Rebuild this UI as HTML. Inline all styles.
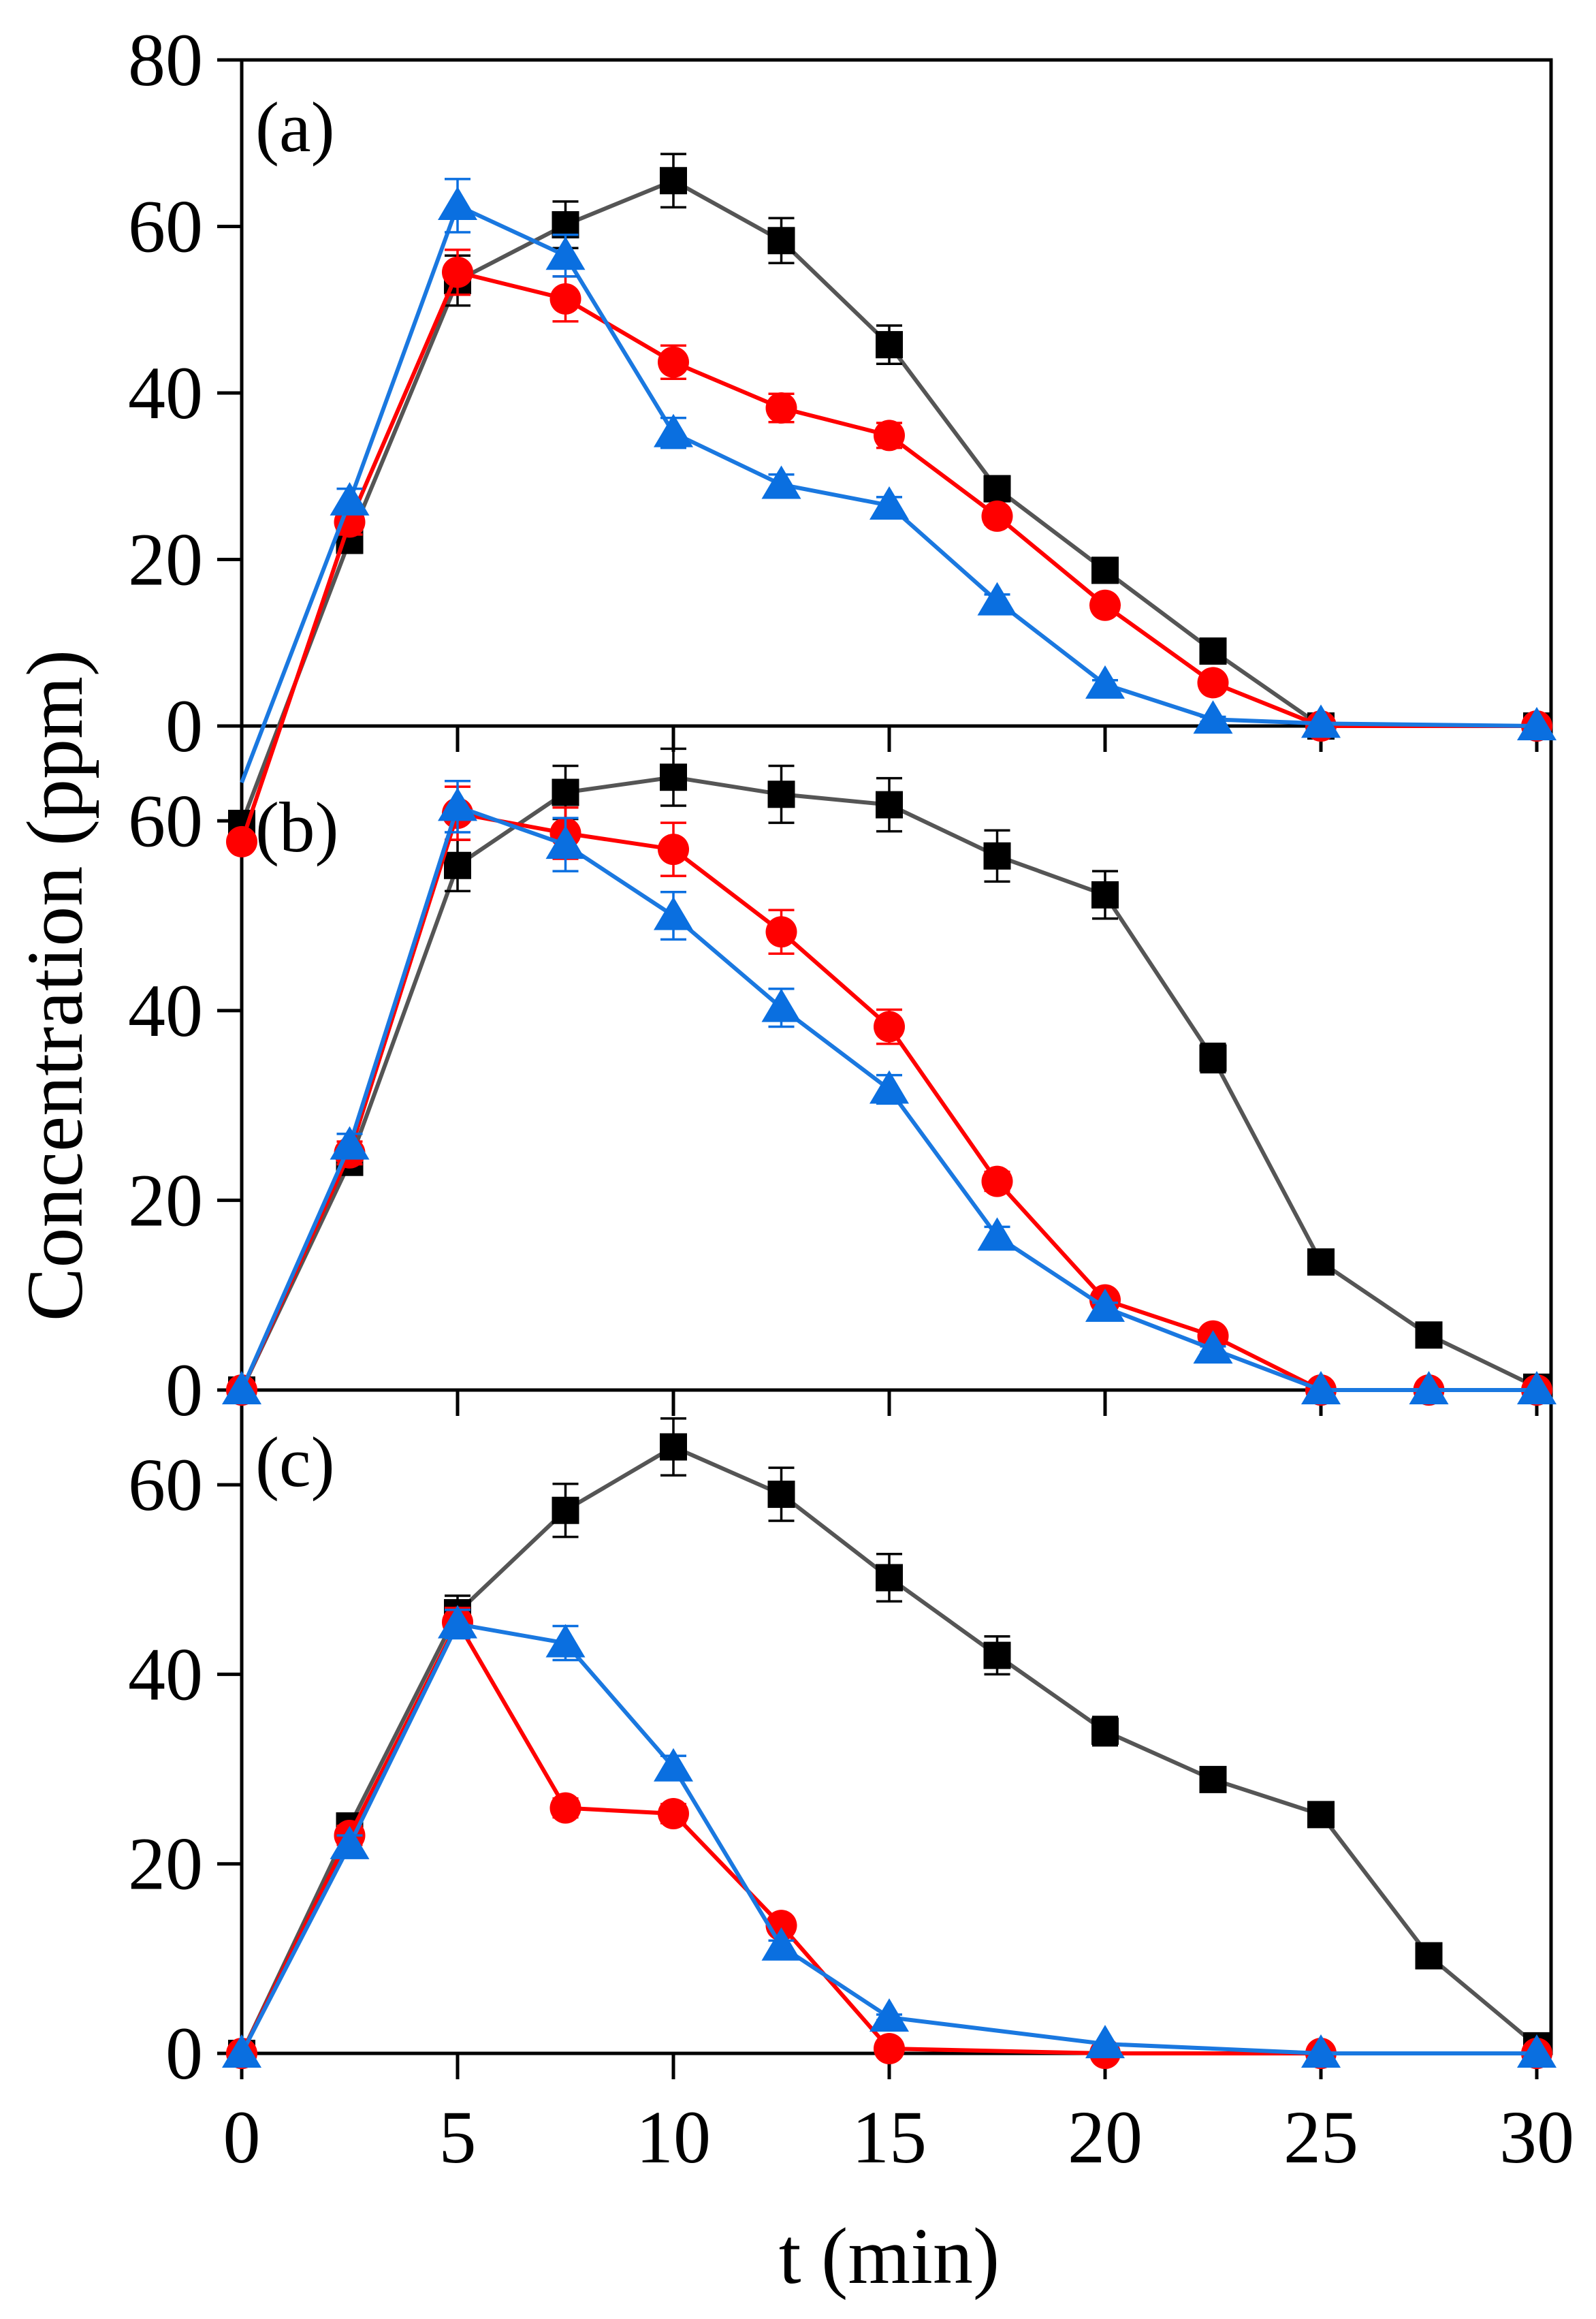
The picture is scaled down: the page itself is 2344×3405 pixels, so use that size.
<!DOCTYPE html>
<html><head><meta charset="utf-8"><style>
html,body{margin:0;padding:0;background:#fff;}
svg{display:block;font-family:"Liberation Serif",serif;}
</style></head><body>
<svg id="chart" width="2344" height="3405" viewBox="0 0 2344 3405" xmlns="http://www.w3.org/2000/svg">
<g id="axes"></g>
<g id="series"></g>
<text x="0" y="0" font-size="118" text-anchor="middle" transform="translate(120,1447) rotate(-90)">Concentration (ppm)</text>
<text x="1306" y="3352" font-size="118" text-anchor="middle">t (min)</text>
</svg>
<script>
const times=[0,2.5,5,7.5,10,12.5,15,17.5,20,22.5,25,27.5,30];
const xTicks=[0,5,10,15,20,25,30];
// panel a
const aBlack=[-11.7,22.3,53.5,60.2,65.5,58.3,45.8,28.5,18.7,9,0,null,0];
const aBlackErr=[0,1.5,3,2.8,3.2,2.7,2.3,1.5,1.2,1,0,0,0];
const aRed=[-13.9,24.5,54.5,51.3,43.7,38.2,34.9,25.2,14.5,5.2,0,null,0];
const aRedErr=[0,1.5,2.7,2.7,2,1.7,1.5,1,0.8,0.5,0,0,0];
const aBlue=[-6.8,27,62.5,56.5,35.2,29,26.5,15,5,0.8,0.3,null,0];
const aBlueErr=[0,1.5,3.2,2.5,1.8,1.2,1,0.8,0.5,0.3,0,0,0];
// panel b
const bBlack=[0,24,55.3,63,64.6,62.8,61.7,56.3,52.2,35,13.5,5.8,0.3];
const bBlackErr=[0,1.2,2.7,2.8,3,3,2.8,2.7,2.5,1.5,0.8,0.5,0];
const bRed=[0,25,60.8,58.7,57,48.3,38.3,22,9.5,5.7,0,0,0];
const bRedErr=[0,1.2,2.8,2.7,2.8,2.3,1.8,1,0.6,0.4,0,0,0];
const bBlue=[0,25.8,61.5,57.5,50,40.3,31.7,16.2,8.7,4.3,0,0,0];
const bBlueErr=[0,1.2,2.7,2.8,2.5,2,1.5,1,0.5,0.3,0,0,0];
// panel c
const cBlack=[0,24,46.5,57.3,64,59,50.2,42,34,28.9,25.2,10.3,0.8];
const cBlackErr=[0,1.2,1.8,2.8,3,2.8,2.5,2,1.5,1,0.8,0.5,0];
const cRed=[0,23,45.5,25.9,25.3,13.5,0.5,null,0,null,0,null,0];
const cRedErr=[0,1,1.5,1,1,0.8,0.3,0,0,0,0,0,0];
const cBlue=[0,22,45.3,43.3,30.2,11.3,3.8,null,1,null,0,null,0];
const cBlueErr=[0,1,1.5,1.8,1.2,0.6,0.3,0,0,0,0,0,0];
const yTicksA=[0,20,40,60,80];
const yTicksBC=[0,20,40,60];

const NS="http://www.w3.org/2000/svg";
const X0=355,X1=2278,PX=(2257-355)/30;
function xs(t){return X0+t*PX;}
const panels=[
 {id:'a',top:88,bottom:1066,max:80,ticks:yTicksA,label:'(a)',ly:222,
  s:[[aBlack,aBlackErr,'black'],[aRed,aRedErr,'red'],[aBlue,aBlueErr,'blue']]},
 {id:'b',top:1066,bottom:2041,max:70,ticks:yTicksBC,label:'(b)',ly:1250,
  s:[[bBlack,bBlackErr,'black'],[bRed,bRedErr,'red'],[bBlue,bBlueErr,'blue']]},
 {id:'c',top:2041,bottom:3015,max:70,ticks:yTicksBC,label:'(c)',ly:2182,
  s:[[cBlack,cBlackErr,'black'],[cRed,cRedErr,'red'],[cBlue,cBlueErr,'blue']]}
];
const axes=document.getElementById('axes'),ser=document.getElementById('series');
function mk(tag,attrs,parent){const e=document.createElementNS(NS,tag);for(const k in attrs)e.setAttribute(k,attrs[k]);parent.appendChild(e);return e;}
const colors={black:{line:'#555555',mark:'#000000'},red:{line:'#ff0000',mark:'#ff0000'},blue:{line:'#1a78e0',mark:'#0a6fe0'}};
panels.forEach((p,pi)=>{
 const ys=v=>p.bottom-(v/p.max)*(p.bottom-p.top);
 const g=mk('g',{},axes);
 
 
 const fr=mk('rect',{x:X0,y:p.top,width:X1-X0,height:p.bottom-p.top,fill:'none',stroke:'#000','stroke-width':5},g);
 
 
 p.ticks.forEach(v=>{
  const y=ys(v);
  const tl=mk('line',{x1:X0-36,x2:X0,y1:y,y2:y,stroke:'#000','stroke-width':5},g);
  
  
  const tx=mk('text',{x:298,y:y+37,'font-size':110,'text-anchor':'end'},g);
  tx.textContent=v;
  
  
 });
 xTicks.forEach(t=>{
  const x=xs(t);
  const xl=mk('line',{x1:x,x2:x,y1:p.bottom,y2:p.bottom+38,stroke:'#000','stroke-width':5},g);
  
  
  if(pi===2){
   const tx=mk('text',{x:x,y:3175,'font-size':110,'text-anchor':'middle'},g);
   tx.textContent=t;
   
   
  }
 });
 const lb=mk('text',{x:375,y:p.ly,'font-size':105},g);
 lb.textContent=p.label;
 
 
 p.s.forEach(([vals,errs,c])=>{
  const sg=mk('g',{},ser);
  
  
  const pts=[];
  vals.forEach((v,i)=>{if(v!==null)pts.push([xs(times[i]),ys(v),i,v]);});
  const pl=mk('polyline',{points:pts.map(q=>q[0]+','+q[1]).join(' '),fill:'none',stroke:colors[c].line,'stroke-width':6},sg);
  
  
  pts.forEach(([x,y,i,v])=>{
   if(c==='blue'&&v<0)return;
   const e=errs[i]*(p.bottom-p.top)/p.max;
   if(e>0){
    const eb=mk('path',{d:`M${x},${y-e}V${y+e}M${x-19},${y-e}H${x+19}M${x-19},${y+e}H${x+19}`,stroke:colors[c].mark,'stroke-width':3.5,fill:'none'},sg);
    
    
   }
   let m;
   if(c==='black')m=mk('rect',{x:x-20,y:y-20,width:40,height:40,fill:colors[c].mark},sg);
   else if(c==='red')m=mk('circle',{cx:x,cy:y,r:23,fill:colors[c].mark},sg);
   else m=mk('polygon',{points:`${x},${y-28} ${x-29},${y+21} ${x+29},${y+21}`,fill:colors[c].mark},sg);
   
   
  });
 });
});
</script>
</body></html>
